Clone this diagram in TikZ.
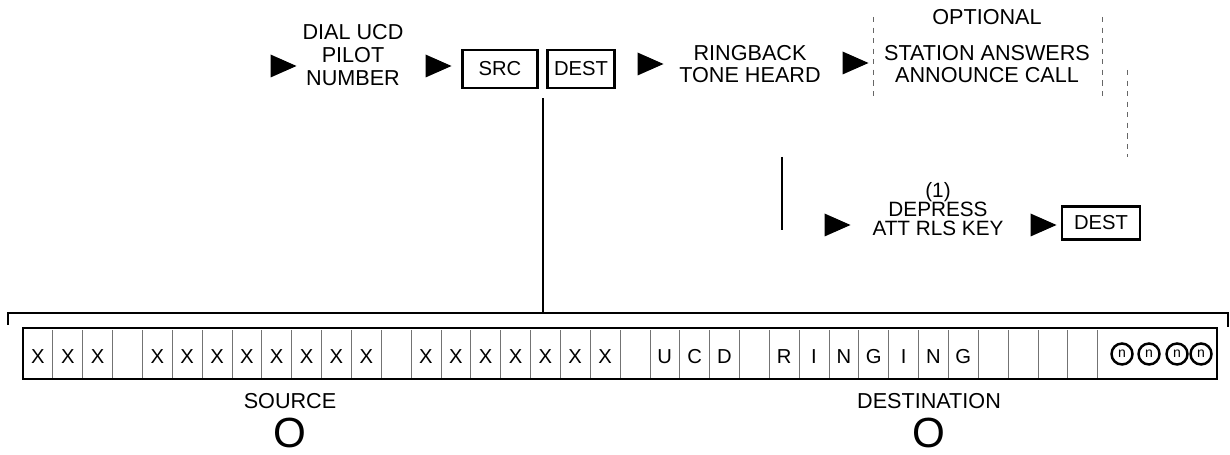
\documentclass[tikz,border=0pt]{standalone}
\usepackage{fontspec}
\setmainfont{Liberation Sans}
\usetikzlibrary{shapes.geometric,calc}

\begin{document}
\begin{tikzpicture}[x=0.02cm,y=-0.02cm,
  pointer/.style={isosceles triangle,isosceles triangle stretches,fill=black,
                  inner sep=0pt,minimum width=0.46cm,minimum height=0.52cm},
  keybox/.style={rectangle,draw,very thick,inner sep=1pt,
                 font=\fontsize{11.5}{12}\selectfont},
  lbl/.style={align=center,inner sep=0pt,font=\fontsize{12.3}{13}\selectfont},
  cell/.style={inner sep=0pt,font=\fontsize{11.5}{12}\selectfont},
  lamp/.style={circle,draw,line width=1.4pt,minimum size=0.42cm,inner sep=0pt,
               font=\fontsize{8}{8}\selectfont},
  optline/.style={thin,dashed,black!60},
  sep/.style={thin,black!55},
  big/.style={inner sep=0pt,font=\fontsize{24}{24}\selectfont}
]
\useasboundingbox (0,0) rectangle (1230,455);
% top row of steps
\node[pointer] (p1) at (278,66) {};
\node[lbl] (dial) at (353,55) {DIAL UCD\\PILOT\\NUMBER};
\node[pointer] (p2) at (433,66) {};
\node[keybox,minimum width=1.5cm,minimum height=0.76cm] (src) at (500,69) {SRC};
\node[keybox,minimum width=1.34cm,minimum height=0.76cm] (dest) at (581,69) {DEST};
\node[pointer] (p3) at (645,64) {};
\node[lbl] (ring) at (750,64) {RINGBACK\\TONE HEARD};
\node[pointer] (p4) at (850,63) {};
\node[lbl] (opt) at (987,17) {OPTIONAL};
\node[lbl] (answer) at (987,64) {STATION ANSWERS\\ANNOUNCE CALL};
\draw[optline] (873,17) -- (873,97);
\draw[optline] (1102,17) -- (1102,97);
\draw[optline] (1127,70) -- (1127,157);
% second row
\draw[semithick] (782,157) -- (782,230);
\node[pointer] (p5) at (832,225) {};
\node[lbl,font=\fontsize{11.8}{10.8}\selectfont] (depress) at (938,209) {(1)\\DEPRESS\\ATT RLS KEY};
\node[pointer] (p6) at (1038,225) {};
\node[keybox,minimum width=1.56cm,minimum height=0.66cm] (dest2) at (1101,223) {DEST};
% display strip
\coordinate (tap) at (543,313);
\draw[very thick] (8,325) -- (8,313) -- (1228,313) -- (1228,327);
\draw[very thick] ($(tap |- src.south)+(0,9)$) -- (tap);
\node[draw,very thick,minimum width=23.88cm,minimum height=1.02cm,inner sep=0pt] (disp) at (620,353.5) {};
\foreach \k in {1,...,36}
  \draw[sep] ({23+\k*29.85},330) -- ({23+\k*29.85},378);
\foreach \k/\ch in {1/X,2/X,3/X,5/X,6/X,7/X,8/X,9/X,10/X,11/X,12/X,
                    14/X,15/X,16/X,17/X,18/X,19/X,20/X,22/U,23/C,24/D,
                    26/R,27/I,28/N,29/G,30/I,31/N,32/G}
  \node[cell] (c\k) at ({23+(\k-0.5)*29.85},357) {\ch};
\foreach \x [count=\k] in {1122,1149,1177,1201}
  \node[lamp] (lamp\k) at (\x,354) {n};
\node[lbl] (source) at (290,401) {SOURCE};
\node[big] (srcO) at (290,433) {O};
\node[lbl] (destination) at (929,401) {DESTINATION};
\node[big] (destO) at (929,433) {O};
\end{tikzpicture}
\end{document}
